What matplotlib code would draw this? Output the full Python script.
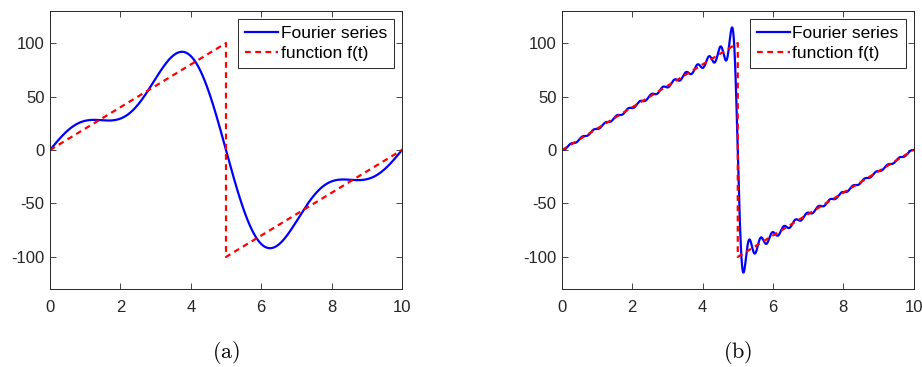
import numpy as np
import matplotlib
matplotlib.use("Agg")
import matplotlib.pyplot as plt

# Sawtooth function f(t): breakpoints and values
f_t = [0, 5, 5, 10]
f_vals = [0, 100, -100, 0]

# Fourier sine coefficients b_n (terms of sin(n*pi*t/5)), period 10
coef_a = [63.66, -31.83, 21.22]
coef_b = [63.66, -31.83, 21.22, -15.92, 12.73, -10.61, 9.09, -7.96, 7.07, -6.37,
          5.79, -5.31, 4.90, -4.55, 4.24, -3.98, 3.74, -3.54, 3.35, -3.18,
          3.03, -2.89, 2.77, -2.65, 2.55, -2.45, 2.36, -2.27, 2.20, -2.12]
half_period = 5.0

x_ticks = [0, 2, 4, 6, 8, 10]
y_ticks = [-100, -50, 0, 50, 100]
legend_labels = ["Fourier series", "function f(t)"]
captions = ["(a)", "(b)"]

plt.rcParams['font.family'] = ['Liberation Sans', 'DejaVu Sans']
plt.rcParams['mathtext.fontset'] = 'cm'

fig = plt.figure(figsize=(9.22, 3.67), dpi=100)
gray = '#262626'

lefts = [50 / 922, 562 / 922]
widths = [352 / 922, 351.5 / 922]
b = (367 - 289) / 367
h = 278 / 367

t = np.linspace(0, 10, 4001)
for i, coefs in enumerate([coef_a, coef_b]):
    ax = fig.add_axes([lefts[i], b, widths[i], h])
    s = np.zeros_like(t)
    for n, c in enumerate(coefs, start=1):
        s += c * np.sin(n * np.pi * t / half_period)
    ax.plot(t, s, color='#0000ff', lw=1.6, label=legend_labels[0])
    ax.plot(f_t, f_vals, color='#ff0000', lw=1.6, ls=(0, (2.6, 2.0)), label=legend_labels[1])
    ax.set_xlim(0, 10)
    ax.set_ylim(-130, 130)
    ax.set_xticks(x_ticks)
    ax.set_yticks(y_ticks)
    ax.set_yticklabels([str(v) for v in y_ticks])
    ax.tick_params(direction='in', top=True, right=True, labelsize=12,
                   colors=gray, length=4, width=0.6)
    ax.tick_params(axis='y', pad=4)
    ax.tick_params(axis='x', pad=8)
    for sp in ax.spines.values():
        sp.set_color(gray)
        sp.set_linewidth(0.7)
    leg = ax.legend(loc='upper right', fontsize=12.5, fancybox=False,
                    edgecolor=gray, framealpha=1, handlelength=1.9,
                    borderpad=0.4, labelspacing=0.3, handletextpad=0.15,
                    borderaxespad=0.45)
    leg.get_frame().set_linewidth(0.7)
    cx = lefts[i] + widths[i] / 2
    fig.text(cx, 1 - 352 / 367, r'$\mathrm{%s}$' % captions[i], ha='center',
             va='center', fontsize=16)

fig.savefig('out.png', dpi=100)
